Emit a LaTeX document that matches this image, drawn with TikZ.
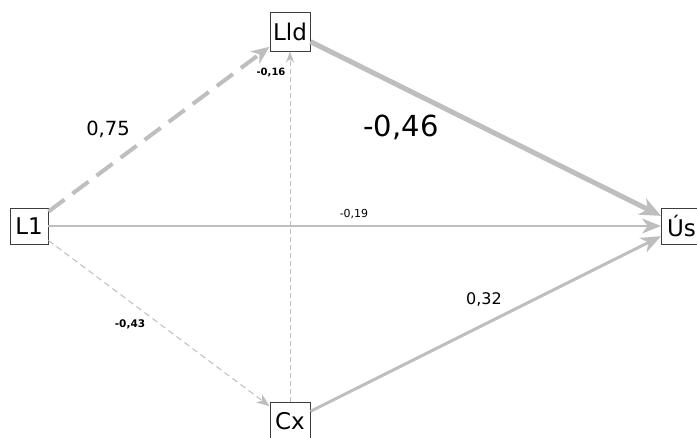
\documentclass[tikz,border=0pt]{standalone}
\usepackage{fontspec}
\setmainfont{DejaVu Sans}
\usetikzlibrary{arrows.meta}
\definecolor{edgegray}{RGB}{190,190,190}
\definecolor{boxgray}{RGB}{60,60,60}
\tikzset{
  var/.style={draw=boxgray, line width=0.9pt, fill=white, inner sep=0pt, font=\fontsize{23}{23}\selectfont},
  conn/.style 2 args={draw=edgegray, -{Stealth[length=#1pt, width=#2pt, inset=0.3*#1pt]}},
  lbl/.style={inner sep=0pt, text=black}
}
\begin{document}
\begin{tikzpicture}[x=1pt,y=-1pt]
\useasboundingbox[fill=white] (0,0) rectangle (697,437);
\node[var, minimum width=38pt, minimum height=36pt] (L1) at (29,226) {L1};
\node[var, minimum width=40pt, minimum height=39pt] (Lld) at (290,31.5) {Lld};
\node[var, minimum width=40pt, minimum height=39pt] (Cx) at (290,421.5) {Cx};
\node[var, minimum width=40pt, minimum height=36pt, anchor=west] (Us) at (661,226) {Ús};

\draw[conn={18}{15}, line width=4pt, dash pattern=on 20pt off 10pt] (L1) -- (Lld);
\draw[conn={21}{18}, line width=5pt] (Lld) -- (Us);
\draw[conn={19}{15}, line width=2.2pt] (L1) -- (Us);
\draw[conn={13}{10}, line width=1pt, dash pattern=on 6pt off 4pt] (L1) -- (Cx);
\draw[conn={20}{16}, line width=3pt] (Cx) -- (Us);
\draw[conn={11}{8}, line width=1pt, dash pattern=on 5pt off 3pt] (Cx) -- (Lld);

\node[lbl, font=\fontsize{19.5}{19.5}\selectfont] (l1) at (108,129) {0,75};
\node[lbl, font=\fontsize{29}{29}\selectfont] (l2) at (401,127) {-0,46};
\node[lbl, font=\fontsize{11}{11}\selectfont] (l3) at (354,214) {-0,19};
\node[lbl, font=\fontsize{10.5}{10.5}\selectfont\bfseries] (l4) at (130,324) {-0,43};
\node[lbl, font=\fontsize{16}{16}\selectfont] (l5) at (484,299) {0,32};
\node[lbl, font=\fontsize{10}{10}\selectfont\bfseries] (l6) at (271,72) {-0,16};
\end{tikzpicture}
\end{document}
